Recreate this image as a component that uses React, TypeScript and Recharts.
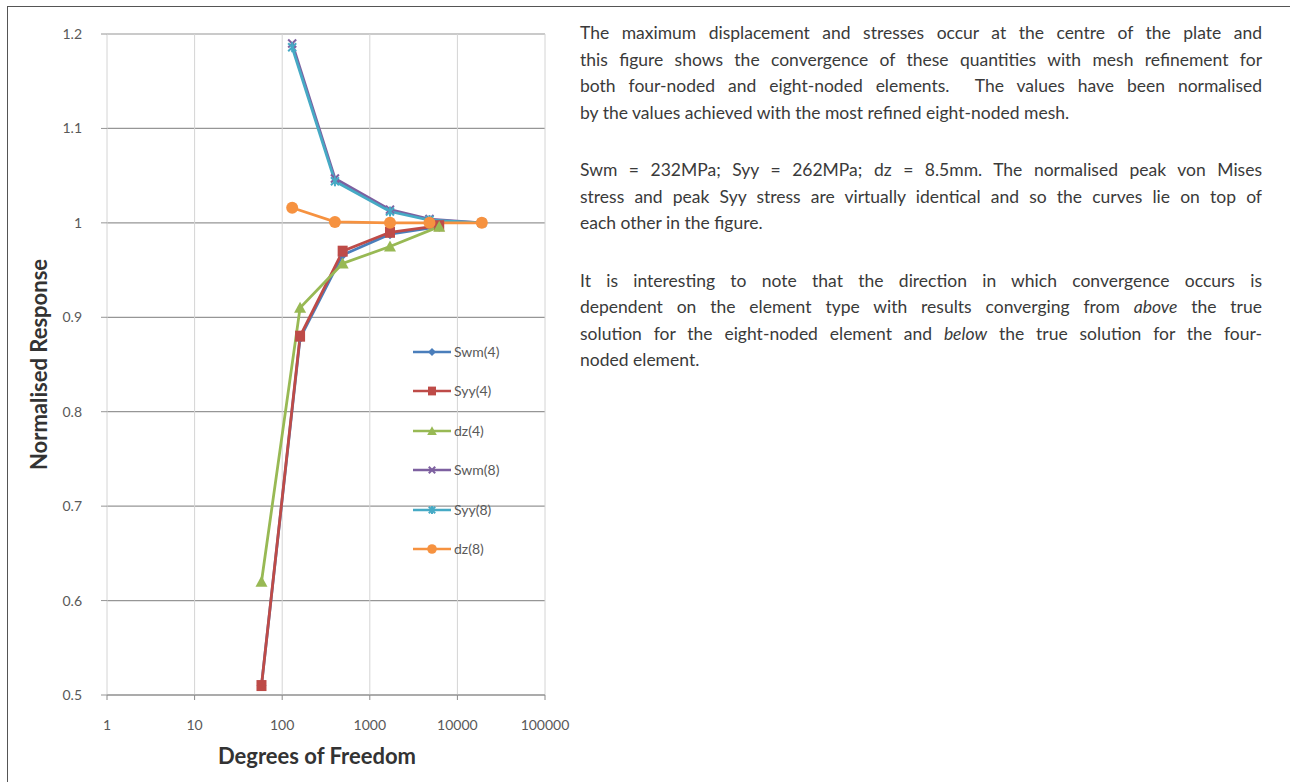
import React from 'react';
import { LineChart, Line, XAxis, YAxis, CartesianGrid, Legend, Label } from 'recharts';

// Degrees of freedom for the two element types
const dof4 = [58, 160, 490, 1700, 6200];
const dof8 = [130, 400, 1700, 4800, 19000];

// Normalised responses
const swm4 = [0.51, 0.878, 0.966, 0.988, 0.996];
const syy4 = [0.51, 0.88, 0.97, 0.99, 0.997];
const dz4 = [0.62, 0.91, 0.957, 0.975, 0.996];
const swm8 = [1.19, 1.047, 1.014, 1.004, 1.0];
const syy8 = [1.186, 1.044, 1.012, 1.003, 1.0];
const dz8 = [1.016, 1.001, 1.0, 1.0, 1.0];

const xTicks = [1, 10, 100, 1000, 10000, 100000];
const yTicks = [0.5, 0.6, 0.7, 0.8, 0.9, 1, 1.1, 1.2];

const seriesNames = ['Swm(4)', 'Syy(4)', 'dz(4)', 'Swm(8)', 'Syy(8)', 'dz(8)'];
const seriesColors = ['#4A7EBB', '#BE4B48', '#98B954', '#7D60A0', '#46AAC5', '#F69240'];
const seriesMarkers = ['diamond', 'square', 'triangle', 'x', 'star', 'circle'];

const toPoints = (xs: number[], ys: number[]) => xs.map((x, i) => ({ x, y: ys[i] }));
const seriesData = [
  toPoints(dof4, swm4),
  toPoints(dof4, syy4),
  toPoints(dof4, dz4),
  toPoints(dof8, swm8),
  toPoints(dof8, syy8),
  toPoints(dof8, dz8),
];

function Marker({ kind, cx, cy, color, scale = 1 }: { kind: string; cx: number; cy: number; color: string; scale?: number }) {
  const s = scale;
  switch (kind) {
    case 'diamond':
      return <polygon points={`${cx},${cy - 5 * s} ${cx + 5 * s},${cy} ${cx},${cy + 5 * s} ${cx - 5 * s},${cy}`} fill={color} />;
    case 'square':
      return <rect x={cx - 5 * s} y={cy - 5.5 * s} width={10 * s} height={11 * s} fill={color} />;
    case 'triangle':
      return <polygon points={`${cx},${cy - 6 * s} ${cx + 6 * s},${cy + 5 * s} ${cx - 6 * s},${cy + 5 * s}`} fill={color} />;
    case 'x':
      return (
        <g stroke={color} strokeWidth={2}>
          <line x1={cx - 4 * s} y1={cy - 4 * s} x2={cx + 4 * s} y2={cy + 4 * s} />
          <line x1={cx - 4 * s} y1={cy + 4 * s} x2={cx + 4 * s} y2={cy - 4 * s} />
        </g>
      );
    case 'star':
      return (
        <g stroke={color} strokeWidth={2}>
          <line x1={cx - 4 * s} y1={cy - 4 * s} x2={cx + 4 * s} y2={cy + 4 * s} />
          <line x1={cx - 4 * s} y1={cy + 4 * s} x2={cx + 4 * s} y2={cy - 4 * s} />
          <line x1={cx} y1={cy - 5 * s} x2={cx} y2={cy + 5 * s} />
        </g>
      );
    default:
      return <circle cx={cx} cy={cy} r={6 * s} fill={color} />;
  }
}

const LegendContent = () => (
  <div style={{ position: 'relative', width: 130, height: 230, fontFamily: 'Lato, sans-serif', fontSize: 14, color: '#595959' }}>
    {seriesNames.map((name, i) => {
      const top = i * 39.4;
      return (
        <div key={name} style={{ position: 'absolute', left: 0, top, height: 24, width: 130 }}>
          <svg width={42} height={24} style={{ position: 'absolute', left: 0, top: 0 }}>
            <line x1={2} y1={12} x2={40} y2={12} stroke={seriesColors[i]} strokeWidth={2.5} />
            <Marker kind={seriesMarkers[i]} cx={21} cy={12} color={seriesColors[i]} scale={0.8} />
          </svg>
          <span style={{ position: 'absolute', left: 43, top: 3, lineHeight: '18px' }}>{name}</span>
        </div>
      );
    })}
  </div>
);

type ParaLine = { text: React.ReactNode; center: number; last?: boolean };
const paraLines: ParaLine[] = [
  { text: 'The maximum displacement and stresses occur at the centre of the plate and', center: 33 },
  { text: 'this figure shows the convergence of these quantities with mesh refinement for', center: 59.5 },
  { text: 'both four-noded and eight-noded elements.\u00a0 The values have been normalised', center: 86 },
  { text: 'by the values achieved with the most refined eight-noded mesh.', center: 112.5, last: true },
  { text: 'Swm = 232MPa; Syy = 262MPa; dz = 8.5mm. The normalised peak von Mises', center: 170 },
  { text: 'stress and peak Syy stress are virtually identical and so the curves lie on top of', center: 197 },
  { text: 'each other in the figure.', center: 223, last: true },
  { text: 'It is interesting to note that the direction in which convergence occurs is', center: 281 },
  { text: <>dependent on the element type with results converging from <i>above</i> the true</>, center: 307 },
  { text: <>solution for the eight-noded element and <i>below</i> the true solution for the four-</>, center: 334 },
  { text: 'noded element.', center: 360, last: true },
];

export default function App() {
  return (
    <div style={{ position: 'absolute', left: 0, top: 0, width: 1290, height: 782, background: '#ffffff', overflow: 'hidden' }}>
      <div style={{ position: 'absolute', left: 7, top: 6, width: 1290, height: 800, borderTop: '1.5px solid #555', borderLeft: '1.5px solid #555' }} />
      <div style={{ position: 'absolute', left: 0, top: 0 }}>
        <LineChart width={600} height={782} margin={{ top: 34, right: 55, bottom: 0, left: 0 }}>
          <CartesianGrid vertical={false} stroke="#969696" strokeWidth={1.2} />
          <CartesianGrid horizontal={false} stroke="#d4d4d4" strokeWidth={1} />
          <XAxis
            dataKey="x"
            type="number"
            scale="log"
            domain={[1, 100000]}
            ticks={xTicks}
            allowDataOverflow
            height={87}
            stroke="#8c8c8c"
            tickSize={5}
            tickMargin={20}
            tick={{ fill: '#595959', fontSize: 14, fontFamily: 'Lato, sans-serif' }}
            tickFormatter={(v: number) => String(v)}
          >
            <Label value="Degrees of Freedom" position="insideBottom" offset={18} dx={-9} style={{ fill: '#333', fontSize: 22, fontWeight: 700, fontFamily: 'Lato, sans-serif' }} />
          </XAxis>
          <YAxis
            type="number"
            domain={[0.5, 1.2]}
            ticks={yTicks}
            width={107}
            axisLine={false}
            tickLine={{ stroke: '#969696' }}
            tickSize={6}
            tickMargin={19}
            tick={{ fill: '#595959', fontSize: 14, fontFamily: 'Lato, sans-serif' }}
            tickFormatter={(v: number) => String(v)}
          >
            <Label value="Normalised Response" position="center" angle={-90} dx={-14} style={{ fill: '#333', fontSize: 22, fontWeight: 700, fontFamily: 'Lato, sans-serif', textAnchor: 'middle' }} />
          </YAxis>
          <Legend layout="vertical" align="center" verticalAlign="middle" content={LegendContent} wrapperStyle={{ left: 411, top: 340, width: 130, height: 230 }} />
          {seriesData.map((d, i) => (
            <Line
              key={seriesNames[i]}
              data={d}
              dataKey="y"
              name={seriesNames[i]}
              stroke={seriesColors[i]}
              strokeWidth={2.8}
              isAnimationActive={false}
              dot={(p: any) => <Marker key={`${i}-${p.index}`} kind={seriesMarkers[i]} cx={p.cx} cy={p.cy} color={seriesColors[i]} />}
              activeDot={false}
            />
          ))}
        </LineChart>
      </div>
      {paraLines.map((l, i) => (
        <div
          key={i}
          style={{
            position: 'absolute',
            left: 580,
            width: 682,
            top: l.center - 11,
            height: 22,
            lineHeight: '22px',
            fontFamily: 'Lato, sans-serif',
            fontSize: 17.5,
            color: '#3a3a3a',
            textAlign: 'justify',
            textAlignLast: l.last ? 'left' : 'justify',
            whiteSpace: 'nowrap',
          } as React.CSSProperties}
        >
          {l.text}
        </div>
      ))}
    </div>
  );
}
